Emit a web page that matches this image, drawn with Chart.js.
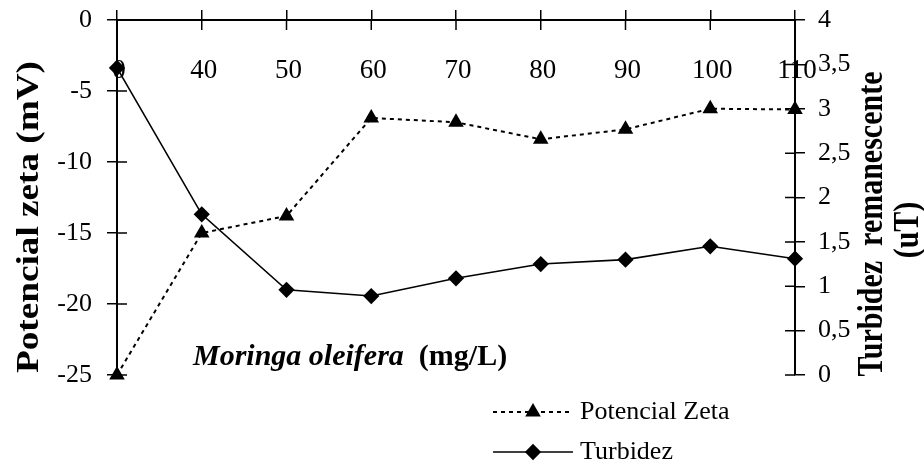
<!DOCTYPE html>
<html>
<head>
<meta charset="utf-8">
<script src="https://cdn.jsdelivr.net/npm/chart.js@4"></script>
<style>
html,body{margin:0;padding:0;background:#fff;}
canvas{display:block;}
</style>
</head>
<body>
<canvas id="c" width="924" height="467"></canvas>
<script>
const categories = ['0','40','50','60','70','80','90','100','110'];
const potencialZeta = [-25, -15, -13.8, -6.9, -7.2, -8.4, -7.7, -6.25, -6.3];
const turbidez = [3.46, 1.81, 0.96, 0.89, 1.09, 1.25, 1.30, 1.45, 1.31];
const leftTicks = [-25, -20, -15, -10, -5, 0];
const rightTicks = [0, 0.5, 1, 1.5, 2, 2.5, 3, 3.5, 4];

const SERIF = "'Liberation Serif', 'Times New Roman', serif";

const customPlugin = {
  id: 'custom',
  beforeDatasetsDraw(chart) {
    const ctx = chart.ctx;
    const xs = chart.scales.x;
    const ca = chart.chartArea;
    ctx.save();
    // x tick labels drawn inside the plot below the top axis
    ctx.fillStyle = '#000';
    ctx.font = '27px ' + SERIF;
    ctx.textAlign = 'center';
    ctx.textBaseline = 'middle';
    categories.forEach((c, i) => {
      ctx.fillText(c, xs.getPixelForValue(i) + 2, ca.top + 51);
    });
    // inner halves of crossing tick marks
    ctx.strokeStyle = '#000';
    ctx.lineWidth = 1.5;
    ctx.beginPath();
    categories.forEach((c, i) => {
      const px = xs.getPixelForValue(i);
      ctx.moveTo(px, ca.top);
      ctx.lineTo(px, ca.top + 10);
    });
    leftTicks.forEach(v => {
      const py = chart.scales.y.getPixelForValue(v);
      ctx.moveTo(ca.left, py);
      ctx.lineTo(ca.left + 10, py);
    });
    rightTicks.forEach(v => {
      const py = chart.scales.y2.getPixelForValue(v);
      ctx.moveTo(ca.right - 10, py);
      ctx.lineTo(ca.right, py);
    });
    ctx.stroke();
    // x axis title
    ctx.textAlign = 'left';
    ctx.textBaseline = 'alphabetic';
    ctx.font = 'italic bold 30px ' + SERIF;
    const t1 = 'Moringa oleifera';
    ctx.fillText(t1, 193, 365);
    const w1 = ctx.measureText(t1).width;
    ctx.font = 'bold 30px ' + SERIF;
    ctx.fillText('  (mg/L)', 193 + w1, 365);
    // left axis title
    ctx.save();
    ctx.translate(30, 217);
    ctx.rotate(-Math.PI / 2);
    ctx.font = 'bold 31px ' + SERIF;
    ctx.textAlign = 'center';
    ctx.textBaseline = 'middle';
    ctx.scale(1.2, 1);
    ctx.fillText('Potencial zeta (mV)', 0, 0);
    ctx.restore();
    // right axis title (two lines)
    ctx.save();
    ctx.translate(873, 224);
    ctx.rotate(-Math.PI / 2);
    ctx.font = 'bold 30px ' + SERIF;
    ctx.textAlign = 'center';
    ctx.textBaseline = 'middle';
    ctx.scale(1, 1.2);
    ctx.fillText('Turbidez  remanescente', 0, 0);
    ctx.fillText('(uT)', -6, 30);
    ctx.restore();
    ctx.restore();
  },
  afterDraw(chart) {
    const ctx = chart.ctx;
    ctx.save();
    const rows = [
      {ds: chart.data.datasets[0], y: 412, x1: 493, x2: 570, mx: 533},
      {ds: chart.data.datasets[1], y: 452, x1: 493, x2: 573, mx: 533}
    ];
    rows.forEach(r => {
      ctx.strokeStyle = '#000';
      ctx.lineWidth = r.ds.borderWidth;
      ctx.setLineDash(r.ds.borderDash || []);
      ctx.beginPath();
      ctx.moveTo(r.x1, r.y);
      ctx.lineTo(r.x2, r.y);
      ctx.stroke();
      ctx.setLineDash([]);
      Chart.helpers.drawPoint(ctx, {pointStyle: r.ds.pointStyle, radius: r.ds.pointRadius, borderWidth: 1}, r.mx, r.y);
      ctx.fillStyle = '#000';
      ctx.fill();
      ctx.font = '26px ' + SERIF;
      ctx.textAlign = 'left';
      ctx.textBaseline = 'middle';
      ctx.fillText(r.ds.label, 580, r.y);
    });
    ctx.restore();
  }
};

new Chart(document.getElementById('c'), {
  type: 'line',
  data: {
    labels: categories,
    datasets: [
      {
        label: 'Potencial Zeta',
        data: potencialZeta,
        yAxisID: 'y',
        borderColor: '#000',
        backgroundColor: '#000',
        borderWidth: 2,
        borderDash: [4, 4],
        pointStyle: 'triangle',
        pointRadius: 7,
        pointBackgroundColor: '#000',
        pointBorderColor: '#000',
        tension: 0,
        clip: false
      },
      {
        label: 'Turbidez',
        data: turbidez,
        yAxisID: 'y2',
        borderColor: '#000',
        backgroundColor: '#000',
        borderWidth: 1.6,
        pointStyle: 'rectRot',
        pointRadius: 7,
        pointBackgroundColor: '#000',
        pointBorderColor: '#000',
        tension: 0,
        clip: false
      }
    ]
  },
  options: {
    responsive: false,
    devicePixelRatio: 1,
    animation: false,
    layout: {padding: {top: 0, bottom: 92, left: 0, right: 0}},
    plugins: {legend: {display: false}, tooltip: {enabled: false}},
    scales: {
      x: {
        type: 'category',
        position: 'top',
        offset: false,
        grid: {drawOnChartArea: false, tickLength: 10, color: '#000', lineWidth: 1.5},
        border: {color: '#000', width: 2},
        ticks: {display: false},
        afterFit(s) { s.height = 20; s.paddingLeft = 0; s.paddingRight = 0; }
      },
      y: {
        type: 'linear',
        position: 'left',
        min: -25, max: 0,
        afterBuildTicks(s) { s.ticks = leftTicks.map(v => ({value: v})); },
        grid: {drawOnChartArea: false, tickLength: 10, color: '#000', lineWidth: 1.5},
        border: {color: '#000', width: 2},
        ticks: {color: '#000', font: {family: SERIF, size: 26}, padding: 15,
                callback: v => String(v)},
        afterFit(s) { s.width = 117; s.paddingTop = 0; s.paddingBottom = 0; }
      },
      y2: {
        type: 'linear',
        position: 'right',
        min: 0, max: 4,
        afterBuildTicks(s) { s.ticks = rightTicks.map(v => ({value: v})); },
        grid: {drawOnChartArea: false, tickLength: 10, color: '#000', lineWidth: 1.5},
        border: {color: '#000', width: 2},
        ticks: {color: '#000', font: {family: SERIF, size: 26}, padding: 13,
                callback: v => String(v).replace('.', ',')},
        afterFit(s) { s.width = 129; s.paddingTop = 0; s.paddingBottom = 0; }
      }
    }
  },
  plugins: [customPlugin]
});
</script>
</body>
</html>
